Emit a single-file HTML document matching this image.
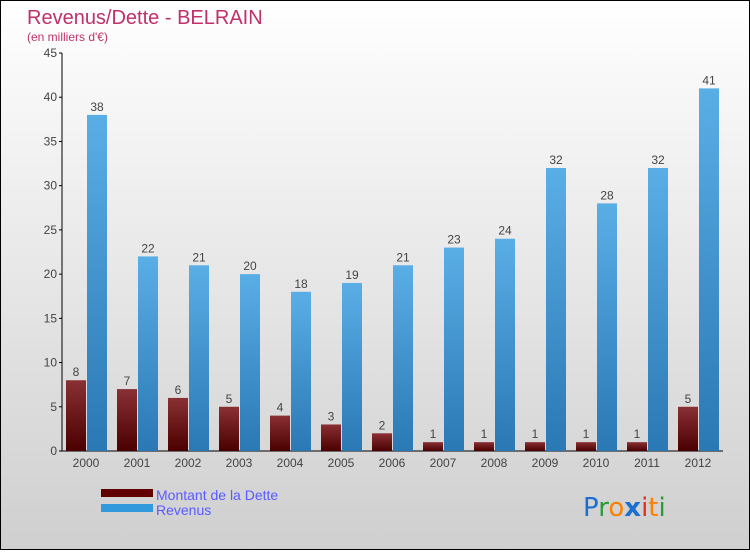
<!DOCTYPE html>
<html><head><meta charset="utf-8"><style>
body{margin:0;width:750px;height:550px;overflow:hidden;font-family:"Liberation Sans",sans-serif}
#wrap{position:absolute;left:0;top:0;width:748px;height:548px;border:1px solid #000;background:linear-gradient(#ffffff,#cfcfcf)}
</style></head><body>
<div id="wrap">
<svg id="chart" width="748" height="548" font-family="Liberation Sans, sans-serif">
<defs>
<linearGradient id="gd" x1="0" y1="0" x2="0" y2="1"><stop offset="0" stop-color="#8a3034"/><stop offset="1" stop-color="#4a0000"/></linearGradient>
<linearGradient id="gr" x1="0" y1="0" x2="0" y2="1"><stop offset="0" stop-color="#5aaee6"/><stop offset="1" stop-color="#2a78b4"/></linearGradient>
</defs>
<text x="26" y="23" font-size="20" fill="#c0306a">Revenus/Dette - BELRAIN</text>
<text x="26" y="40" font-size="12" fill="#c0306a">(en milliers d'€)</text>
<g id="axes"></g><g id="bars"></g>
<rect x="100" y="488" width="52" height="8" fill="#600000"/>
<text x="155" y="499" font-size="14" fill="#5a5aff">Montant de la Dette</text>
<rect x="100" y="503" width="52" height="8" fill="#3399dd"/>
<text x="155" y="514" font-size="14" fill="#5a5aff">Revenus</text>
<g font-size="26" font-family="DejaVu Sans, sans-serif">
<text x="582" y="515"><tspan fill="#1a6fd0">P</tspan><tspan fill="#2a9a3a">r</tspan><tspan fill="#ff8000">o</tspan><tspan fill="#1a6fd0" font-weight="bold">x</tspan><tspan fill="#e03020">i</tspan><tspan fill="#ff8000">t</tspan><tspan fill="#2a9a3a">i</tspan></text></g>
</svg></div>
<script>
const years=["2000","2001","2002","2003","2004","2005","2006","2007","2008","2009","2010","2011","2012"];
const dette=[8,7,6,5,4,3,2,1,1,1,1,1,5];
const revenus=[38,22,21,20,18,19,21,23,24,32,28,32,41];
const ticks=[0,5,10,15,20,25,30,35,40,45];
const NS="http://www.w3.org/2000/svg";
const y0=450,pxPer=398/45,x0=62,gw=51;
const Y=v=>y0-v*pxPer, GX=i=>x0+i*gw;
function mk(t,a,p){const e=document.createElementNS(NS,t);for(const k in a)e.setAttribute(k,a[k]);p.appendChild(e);return e;}
const ax=document.getElementById('axes'),bg=document.getElementById('bars');
const yl=mk('line',{x1:61,y1:52,x2:61,y2:450,stroke:'#000'},ax);


const xl=mk('line',{x1:61,y1:450,x2:722,y2:450,stroke:'#000'},ax);


ticks.forEach(t=>{
 mk('line',{x1:58,y1:Y(t),x2:61,y2:Y(t),stroke:'#000'},ax);
 const tx=mk('text',{x:56,y:Y(t)+4,'font-size':12,fill:'#444','text-anchor':'end'},ax);tx.textContent=t;
 
 
});
years.forEach((yr,i)=>{
 const gx=GX(i);
 const tx=mk('text',{x:gx+23,y:466,'font-size':12,fill:'#444','text-anchor':'middle'},ax);tx.textContent=yr;
 
 
 const d=mk('rect',{x:gx+3,y:Y(dette[i]),width:20,height:dette[i]*pxPer,fill:'url(#gd)'},bg);
 
 
 const dl=mk('text',{x:gx+13,y:Y(dette[i])-4,'font-size':12,fill:'#444','text-anchor':'middle'},bg);dl.textContent=dette[i];
 
 
 const r=mk('rect',{x:gx+24,y:Y(revenus[i]),width:20,height:revenus[i]*pxPer,fill:'url(#gr)'},bg);
 
 
 const rl=mk('text',{x:gx+34,y:Y(revenus[i])-4,'font-size':12,fill:'#444','text-anchor':'middle'},bg);rl.textContent=revenus[i];
 
 
});
</script>
</body></html>
